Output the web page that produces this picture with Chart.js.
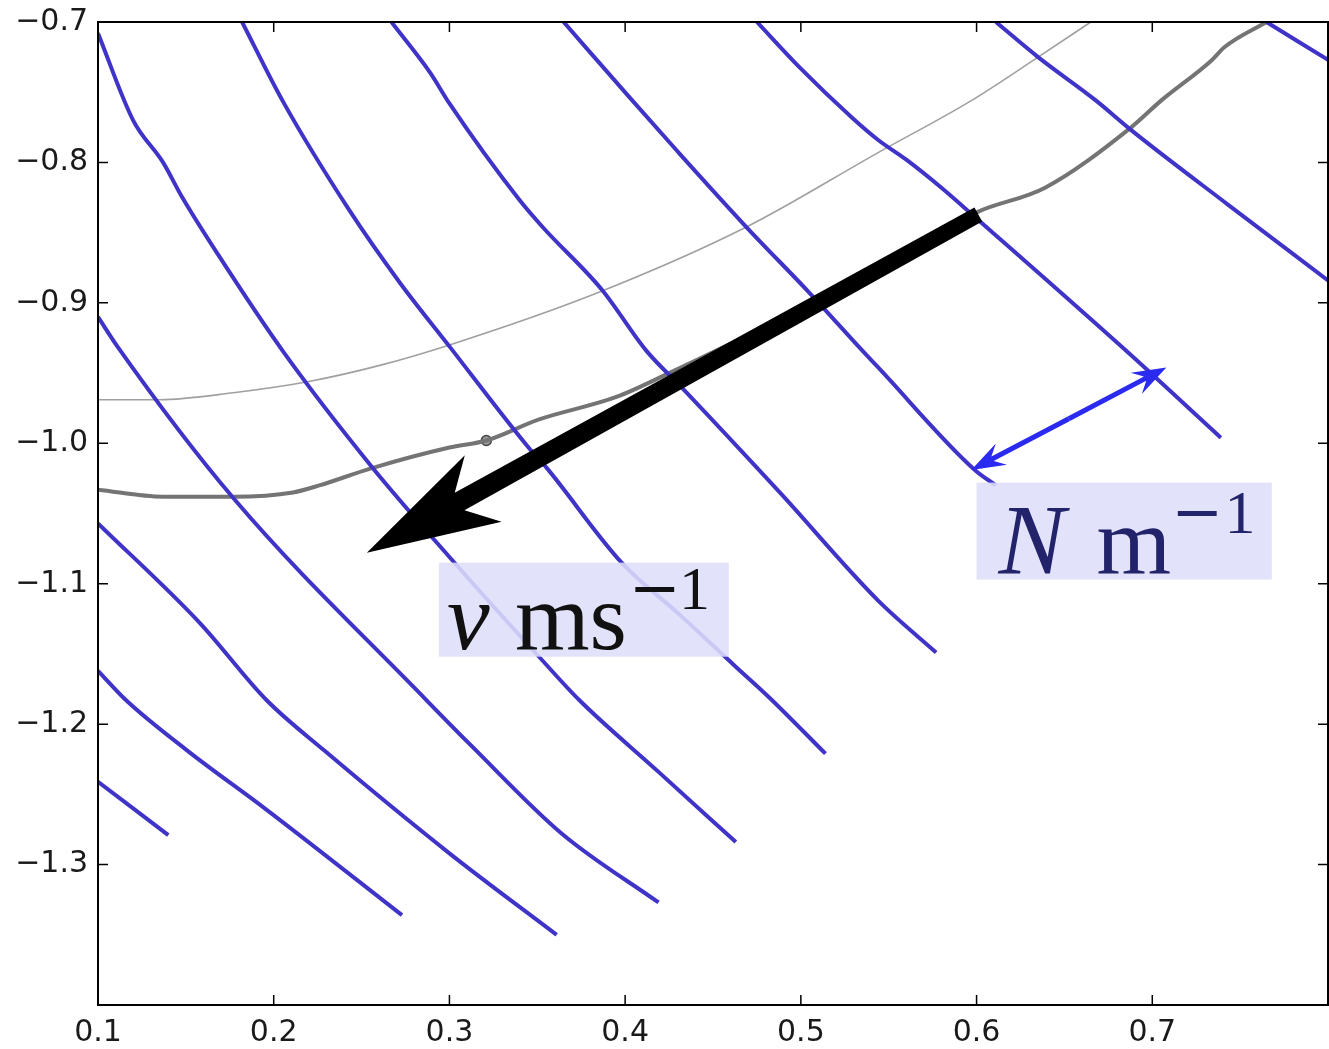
<!DOCTYPE html>
<html>
<head>
<meta charset="utf-8">
<script src="https://cdn.jsdelivr.net/npm/chart.js@4.4.1/dist/chart.umd.min.js"></script>
<style>
  html, body { margin: 0; padding: 0; background: #fff; overflow: hidden; }
  #wrap { width: 1329px; height: 1049px; }
  canvas { display: block; }
</style>
</head>
<body>
<div id="wrap"><canvas id="fieldChart"></canvas></div>
<script>
// axis ticks
const xTicks = [0.1, 0.2, 0.3, 0.4, 0.5, 0.6, 0.7, 0.8];
const xTickLabels = ['0.1', '0.2', '0.3', '0.4', '0.5', '0.6', '0.7', ''];
const yTicks = [-0.7, -0.8, -0.9, -1.0, -1.1, -1.2, -1.3, -1.4];
const yTickLabels = ['\u22120.7', '\u22120.8', '\u22120.9', '\u22121.0', '\u22121.1', '\u22121.2', '\u22121.3', ''];

// blue level lines (x, y)
const contourA = [[0.100,-1.241],[0.140,-1.279]];
const contourB = [[0.100,-1.162],[0.116,-1.183],[0.151,-1.219],[0.196,-1.261],[0.273,-1.336]];
const contourC = [[0.100,-1.057],[0.158,-1.128],[0.196,-1.183],[0.229,-1.219],[0.300,-1.292],[0.361,-1.350]];
const contourD = [[0.100,-0.910],[0.111,-0.931],[0.177,-1.039],[0.287,-1.183],[0.313,-1.216],[0.364,-1.278],[0.419,-1.327]];
const contourE = [[0.100,-0.708],[0.120,-0.770],[0.137,-0.800],[0.148,-0.825],[0.168,-0.865],[0.205,-0.934],[0.256,-1.017],[0.300,-1.081],[0.351,-1.152],[0.374,-1.183],[0.419,-1.234],[0.463,-1.284]];
const contourF = [[0.182,-0.700],[0.205,-0.756],[0.243,-0.834],[0.272,-0.886],[0.300,-0.931],[0.345,-1.003],[0.355,-1.017],[0.398,-1.085],[0.431,-1.122],[0.462,-1.158],[0.482,-1.181],[0.514,-1.221]];
const contourG = [[0.267,-0.700],[0.289,-0.736],[0.300,-0.758],[0.340,-0.827],[0.353,-0.846],[0.387,-0.891],[0.412,-0.934],[0.432,-0.960],[0.488,-1.035],[0.544,-1.112],[0.577,-1.149]];
const contourH = [[0.365,-0.700],[0.402,-0.753],[0.429,-0.791],[0.469,-0.846],[0.505,-0.893],[0.535,-0.934],[0.544,-0.946],[0.599,-1.019],[0.611,-1.030]];
const contourI = [[0.475,-0.700],[0.499,-0.732],[0.529,-0.768],[0.544,-0.784],[0.560,-0.798],[0.580,-0.818],[0.601,-0.841],[0.685,-0.934],[0.739,-0.996]];
const contourJ = [[0.611,-0.700],[0.635,-0.725],[0.668,-0.756],[0.688,-0.777],[0.743,-0.830],[0.800,-0.884]];
const contourK = [[0.765,-0.700],[0.800,-0.727]];

// gray curves
const thinCurve = [[0.100,-0.969],[0.135,-0.969],[0.177,-0.964],[0.220,-0.956],[0.262,-0.944],[0.300,-0.930],[0.384,-0.893],[0.469,-0.846],[0.544,-0.793],[0.597,-0.756],[0.635,-0.725],[0.665,-0.700]];
const thickCurve = [[0.100,-1.033],[0.137,-1.038],[0.177,-1.038],[0.211,-1.035],[0.226,-1.030],[0.255,-1.018],[0.300,-1.003],[0.321,-0.998],[0.351,-0.983],[0.395,-0.967],[0.425,-0.950],[0.476,-0.919],[0.533,-0.880],[0.601,-0.835],[0.639,-0.818],[0.688,-0.775],[0.705,-0.756],[0.734,-0.727],[0.741,-0.718],[0.765,-0.700]];
const markerPoint = [[0.321,-0.998]];

// arrows: [from, to]
const velocityArrow = [[0.601,-0.837],[0.253,-1.078]];
const spacingArrow = [[0.597,-1.019],[0.708,-0.946]];

// label boxes: [x1, y1, x2, y2]
const velocityBox = [0.294,-1.085,0.459,-1.152];
const spacingBox = [0.600,-1.028,0.768,-1.097];

const toXY = arr => arr.map(p => ({x: p[0], y: p[1]}));

const blue = '#3f33c8';
const contours = [contourA, contourB, contourC, contourD, contourE, contourF, contourG, contourH, contourI, contourJ, contourK];

const datasets = contours.map((c, i) => ({
    label: 'level ' + (i + 1),
    data: toXY(c),
    borderColor: blue,
    borderWidth: 4,
    pointRadius: 0,
    cubicInterpolationMode: 'monotone',
    clip: 0
}));

datasets.push({
    label: 'thin',
    data: toXY(thinCurve),
    borderColor: '#a0a0a0',
    borderWidth: 1.6,
    pointRadius: 0,
    cubicInterpolationMode: 'monotone',
    clip: 0
});
datasets.push({
    label: 'thick',
    data: toXY(thickCurve),
    borderColor: '#747474',
    borderWidth: 4,
    pointRadius: 0,
    cubicInterpolationMode: 'monotone',
    clip: 0
});
datasets.push({
    label: 'marker',
    data: toXY(markerPoint),
    showLine: false,
    pointRadius: 5,
    pointBackgroundColor: '#9a9a9a',
    pointBorderColor: '#444',
    pointBorderWidth: 1.5
});

function px(chart, p) {
    return [chart.scales.x.getPixelForValue(p[0]), chart.scales.y.getPixelForValue(p[1])];
}

// filled arrow with swept-back barbs; sizes in pixels
function drawFancyArrow(ctx, from, to, s) {
    const dx = to[0] - from[0], dy = to[1] - from[1];
    const len = Math.hypot(dx, dy);
    const ux = dx / len, uy = dy / len;
    const nx = -uy, ny = ux;
    const at = (back, side) => [to[0] - ux * back + nx * side, to[1] - uy * back + ny * side];
    const pts = [
        at(0, 0),
        at(s.barbBack, s.barbSide),
        at(s.notchBack, s.notchSide),
        [from[0] + nx * s.tail, from[1] + ny * s.tail],
        [from[0] - nx * s.tail, from[1] - ny * s.tail],
        at(s.notchBack, -s.notchSide),
        at(s.barbBack, -s.barbSide)
    ];
    ctx.beginPath();
    ctx.moveTo(pts[0][0], pts[0][1]);
    for (let i = 1; i < pts.length; i++) ctx.lineTo(pts[i][0], pts[i][1]);
    ctx.closePath();
    ctx.fill();
}

function drawDoubleArrow(ctx, a, b) {
    const mid = [(a[0] + b[0]) / 2, (a[1] + b[1]) / 2];
    const s = {barbBack: 34, barbSide: 12, notchBack: 24, notchSide: 2.5, tail: 2.5};
    ctx.fillStyle = '#2a2af0';
    drawFancyArrow(ctx, mid, b, s);
    drawFancyArrow(ctx, mid, a, s);
}

function drawLabel(chart, box, parts, color) {
    const ctx = chart.ctx;
    const p1 = px(chart, [box[0], box[1]]);
    const p2 = px(chart, [box[2], box[3]]);
    ctx.fillStyle = 'rgba(222,222,250,0.88)';
    ctx.fillRect(p1[0], p1[1], p2[0] - p1[0], p2[1] - p1[1]);
    ctx.fillStyle = color;
    ctx.textBaseline = 'alphabetic';
    ctx.textAlign = 'left';
    parts.forEach(part => {
        ctx.font = part.font;
        ctx.fillText(part.text, p1[0] + part.dx, p1[1] + part.dy);
    });
}

const annotations = {
    id: 'annotations',
    afterDatasetsDraw(chart) {
        const ctx = chart.ctx;
        const a = chart.chartArea;
        ctx.save();
        ctx.beginPath();
        ctx.rect(a.left, a.top, a.right - a.left, a.bottom - a.top);
        ctx.clip();
        ctx.fillStyle = '#000';
        drawFancyArrow(ctx, px(chart, velocityArrow[0]), px(chart, velocityArrow[1]),
            {barbBack: 133, barbSide: 38, notchBack: 106, notchSide: 10, tail: 8});
        drawDoubleArrow(ctx, px(chart, spacingArrow[0]), px(chart, spacingArrow[1]));
        const big = '96px "Liberation Serif"';
        const bigIt = 'italic 96px "Liberation Serif"';
        const nIt = 'italic 100px "Liberation Serif"';
        const sup = '62px "Liberation Serif"';
        const supMinus = '62px "DejaVu Serif"';
        drawLabel(chart, velocityBox, [
            {text: 'v', font: bigIt, dx: 8, dy: 86},
            {text: 'ms', font: big, dx: 76, dy: 86},
            {text: '\u2212', font: supMinus, dx: 190, dy: 46},
            {text: '1', font: sup, dx: 240, dy: 46}
        ], '#111');
        drawLabel(chart, spacingBox, [
            {text: 'N', font: nIt, dx: 22, dy: 90},
            {text: 'm', font: big, dx: 120, dy: 90},
            {text: '\u2212', font: supMinus, dx: 195, dy: 50},
            {text: '1', font: sup, dx: 248, dy: 50}
        ], '#23236b');
        ctx.restore();
    },
    afterDraw(chart) {
        const {ctx, chartArea: a, scales: {x, y}} = chart;
        ctx.save();
        ctx.strokeStyle = '#000';
        ctx.lineWidth = 1.5;
        ctx.beginPath();
        xTicks.forEach(v => {
            const p = x.getPixelForValue(v);
            ctx.moveTo(p, a.bottom); ctx.lineTo(p, a.bottom - 10);
            ctx.moveTo(p, a.top); ctx.lineTo(p, a.top + 10);
        });
        yTicks.forEach(v => {
            const p = y.getPixelForValue(v);
            ctx.moveTo(a.left, p); ctx.lineTo(a.left + 10, p);
            ctx.moveTo(a.right, p); ctx.lineTo(a.right - 10, p);
        });
        ctx.stroke();
        ctx.lineWidth = 2;
        ctx.strokeRect(a.left, a.top, a.right - a.left, a.bottom - a.top);
        ctx.restore();
    }
};

const ctx = document.getElementById('fieldChart').getContext('2d');
new Chart(ctx, {
    type: 'line',
    data: { datasets: datasets },
    options: {
        responsive: true,
        maintainAspectRatio: false,
        animation: false,
        layout: { autoPadding: false, padding: { top: 22, right: 1, left: 0, bottom: 0 } },
        plugins: {
            legend: { display: false },
            tooltip: { enabled: false }
        },
        scales: {
            x: {
                type: 'linear',
                min: 0.1,
                max: 0.8,
                grid: { display: false, drawTicks: false },
                border: { display: false },
                afterBuildTicks: scale => { scale.ticks = xTicks.map(v => ({value: v})); },
                afterFit: scale => {
                    scale.height = 44;
                    scale.paddingLeft = 0;
                    scale.paddingRight = 0;
                },
                ticks: {
                    autoSkip: false,
                    maxRotation: 0,
                    padding: 10,
                    color: '#1a1a1a',
                    font: { family: 'DejaVu Sans', size: 30 },
                    callback: (v, i) => xTickLabels[i]
                }
            },
            y: {
                type: 'linear',
                min: -1.4,
                max: -0.7,
                grid: { display: false, drawTicks: false },
                border: { display: false },
                afterBuildTicks: scale => { scale.ticks = yTicks.slice().reverse().map(v => ({value: v})); },
                afterFit: scale => {
                    scale.width = 98;
                    scale.paddingTop = 0;
                    scale.paddingBottom = 0;
                },
                ticks: {
                    autoSkip: false,
                    padding: 10,
                    color: '#1a1a1a',
                    font: { family: 'DejaVu Sans', size: 30 },
                    callback: v => yTickLabels[yTicks.findIndex(t => Math.abs(t - v) < 1e-9)]
                }
            }
        }
    },
    plugins: [annotations]
});
</script>
</body>
</html>
